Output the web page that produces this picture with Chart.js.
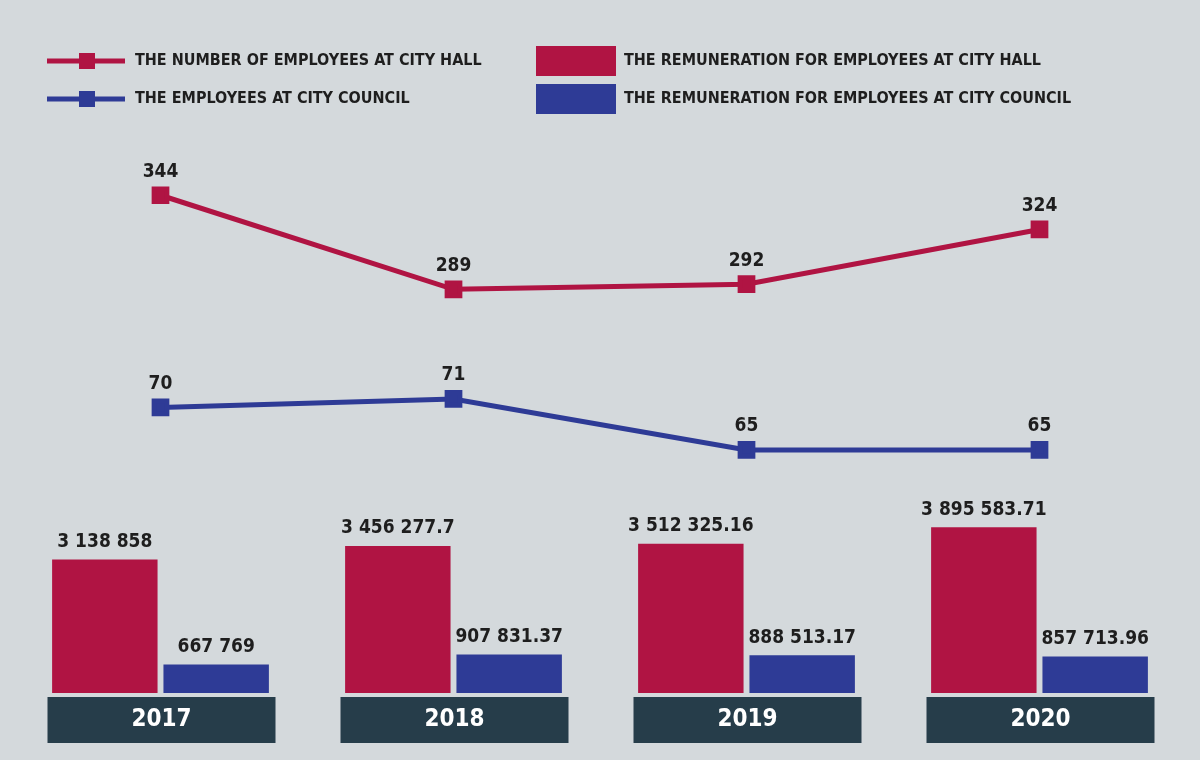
<!DOCTYPE html>
<html>
<head>
<meta charset="utf-8">
<script src="https://cdn.jsdelivr.net/npm/chart.js@4.4.1/dist/chart.umd.min.js"></script>
<style>
  body { margin: 0; background: #d4d9dc; }
  #wrap { width: 1200px; height: 760px; }
</style>
</head>
<body>
<div id="wrap"><canvas id="chart" width="1200" height="760"></canvas></div>
<script>
var years = ["2017", "2018", "2019", "2020"];
var hallEmployees = [344, 289, 292, 324];
var councilEmployees = [70, 71, 65, 65];
var hallPay = [3138858, 3456277.7, 3512325.16, 3895583.71];
var councilPay = [667769, 907831.37, 888513.17, 857713.96];

var RED = "#b01443";
var BLUE = "#2e3b96";
var DARK = "#263d4a";
var FONT = "'Liberation Sans Narrow', 'DejaVu Sans Condensed', sans-serif";

function fmt(v) {
    var parts = String(v).split(".");
    var s = parts[0].replace(/\B(?=(\d{3})+(?!\d))/g, " ");
    return parts.length > 1 ? s + "." + parts[1] : s;
}

// values above points and bars, year boxes and the legend
var decor = {
    id: "decor",
    afterDatasetsDraw: function(chart) {
        var c = chart.ctx;
        c.save();
        c.textAlign = "center";
        c.textBaseline = "bottom";
        c.fillStyle = "#1e1e1e";
        c.font = "bold 19px " + FONT;
        chart.data.datasets.forEach(function(ds, i) {
            chart.getDatasetMeta(i).data.forEach(function(el, j) {
                var off = ds.type === "line" ? 14 : 8;
                c.fillText(fmt(ds.data[j]), el.x, el.y - off);
            });
        });

        // year boxes
        var x = chart.scales.x;
        c.textBaseline = "middle";
        c.font = "bold 24px " + FONT;
        years.forEach(function(y, j) {
            var cx = x.getPixelForValue(j);
            c.fillStyle = DARK;
            c.fillRect(cx - 113, 697, 228, 46);
            c.fillStyle = "#ffffff";
            c.fillText(y, cx + 1, 720);
        });

        // legend
        c.textAlign = "left";
        c.font = "bold 16px " + FONT;
        var items = [
            [47, 61, RED, "line", "THE NUMBER OF EMPLOYEES AT CITY HALL"],
            [47, 99, BLUE, "line", "THE EMPLOYEES AT CITY COUNCIL"],
            [536, 61, RED, "box", "THE REMUNERATION FOR EMPLOYEES AT CITY HALL"],
            [536, 99, BLUE, "box", "THE REMUNERATION FOR EMPLOYEES AT CITY COUNCIL"]
        ];
        items.forEach(function(it) {
            c.fillStyle = it[2];
            if (it[3] === "line") {
                c.fillRect(it[0], it[1] - 2.5, 78, 5);
                c.fillRect(it[0] + 32, it[1] - 8, 16, 16);
                c.fillStyle = "#1e1e1e";
                c.fillText(it[4], 135, it[1]);
            } else {
                c.fillRect(it[0], it[1] - 15, 80, 30);
                c.fillStyle = "#1e1e1e";
                c.fillText(it[4], 624, it[1]);
            }
        });
        c.restore();
    }
};

new Chart(document.getElementById("chart"), {
    type: "bar",
    data: {
        labels: years,
        datasets: [
            {
                type: "line", data: hallEmployees, yAxisID: "yHall",
                borderColor: RED, backgroundColor: RED, borderWidth: 5,
                pointStyle: "rect", pointRadius: 9, pointHoverRadius: 9
            },
            {
                type: "line", data: councilEmployees, yAxisID: "yCouncil",
                borderColor: BLUE, backgroundColor: BLUE, borderWidth: 5,
                pointStyle: "rect", pointRadius: 9, pointHoverRadius: 9
            },
            {
                data: hallPay, yAxisID: "yPay", backgroundColor: RED,
                categoryPercentage: 0.76, barPercentage: 0.947
            },
            {
                data: councilPay, yAxisID: "yPay", backgroundColor: BLUE,
                categoryPercentage: 0.76, barPercentage: 0.947
            }
        ]
    },
    options: {
        responsive: false,
        animation: false,
        layout: { padding: { top: 0, bottom: 67, left: 0, right: 0 } },
        plugins: { legend: { display: false }, tooltip: { enabled: false } },
        scales: {
            x: { display: false, offset: true, grid: { display: false } },
            yHall: { display: false, min: 52.9, max: 450 },
            yCouncil: { display: false, min: 36.4, max: 116.3 },
            yPay: { display: false, min: 0, max: 15970000 }
        }
    },
    plugins: [decor]
});
</script>
</body>
</html>
